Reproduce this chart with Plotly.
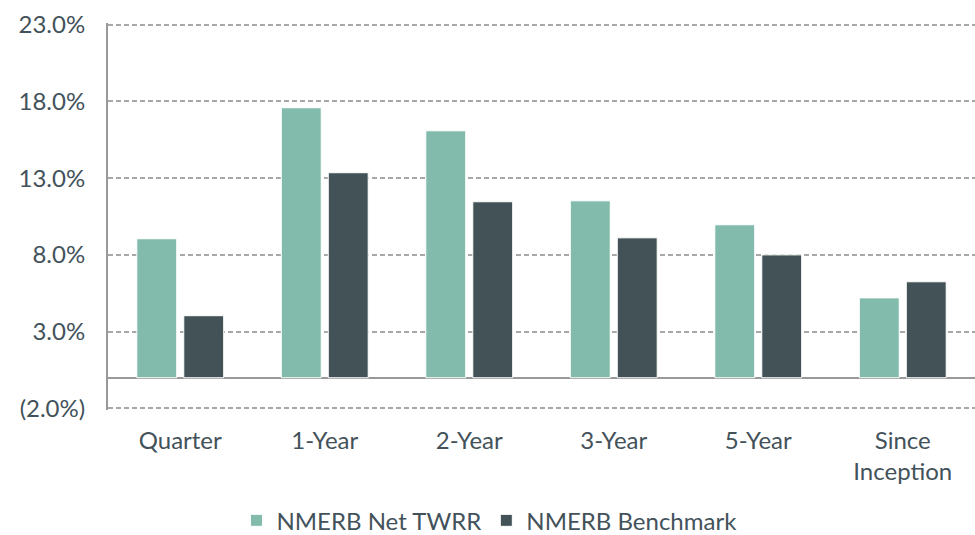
import plotly.graph_objects as go

categories = ["Quarter", "1-Year", "2-Year", "3-Year", "5-Year", "Since<br>Inception"]
net_twrr = [9.05, 17.58, 16.08, 11.52, 9.96, 5.2]
benchmark = [4.04, 13.35, 11.46, 9.11, 8.0, 6.25]
tick_vals = [-2, 3, 8, 13, 18, 23]
tick_text = ["(2.0%)", "3.0%", "8.0%", "13.0%", "18.0%", "23.0%"]

font_family = "Lato, Open Sans, sans-serif"
text_color = "#43525A"

fig = go.Figure()
fig.add_trace(go.Bar(x=categories, y=net_twrr, name="NMERB Net TWRR",
                     marker=dict(color="#82BAAB", line=dict(color="white", width=1))))
fig.add_trace(go.Bar(x=categories, y=benchmark, name="NMERB Benchmark",
                     marker=dict(color="#435256", line=dict(color="white", width=1))))

fig.update_layout(
    width=975, height=535,
    margin=dict(l=108, r=0, t=23, b=125, autoexpand=False),
    plot_bgcolor="white", paper_bgcolor="white",
    barmode="group", bargap=0.35, bargroupgap=0.15,
    font=dict(family=font_family, color=text_color, size=24),
    showlegend=True,
    legend=dict(orientation="h", x=0.44, xanchor="center", y=-0.228, yanchor="top",
                font=dict(size=24, color=text_color), traceorder="normal",
                itemwidth=30, borderwidth=0),
    xaxis=dict(showgrid=False, showline=False, ticks="", tickfont=dict(size=24),
               ticklabelstandoff=14, automargin=False),
    yaxis=dict(range=[-2.1, 23.1], tickvals=tick_vals, ticktext=tick_text,
               showgrid=True, gridcolor="#A8A8A8", griddash="5px,3px", gridwidth=1.5,
               zeroline=True, zerolinecolor="#999999", zerolinewidth=2,
               showline=True, linecolor="#999999", linewidth=2,
               ticks="", tickfont=dict(size=24), ticklabelstandoff=16, automargin=False),
)

fig.write_html("out.html", config={"displayModeBar": False},
               post_script="document.body.style.margin='0';document.body.style.overflow='hidden';")
